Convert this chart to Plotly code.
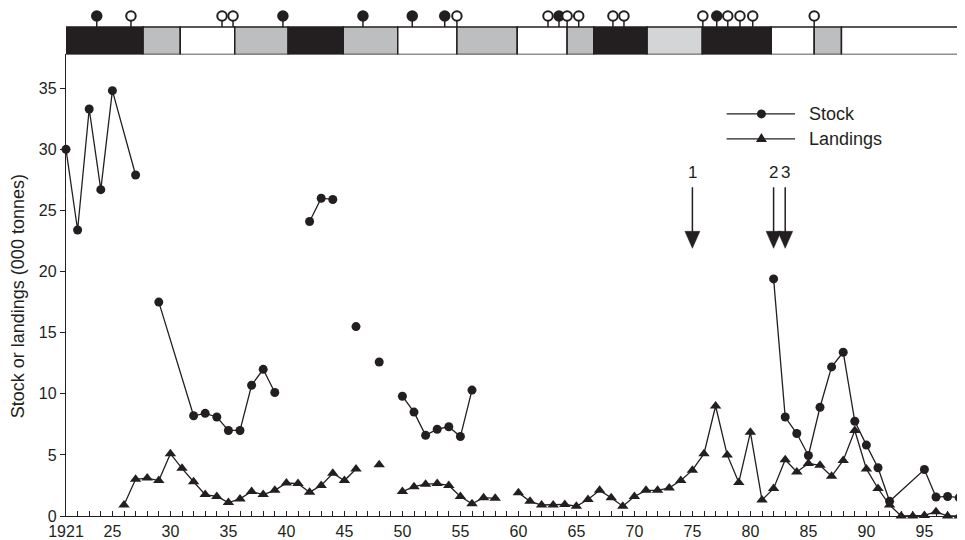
import plotly.graph_objects as go

# ---------------- data ----------------
stock_years = [1921, 1922, 1923, 1924, 1925, 1927, 1928,
               1929, 1932, 1933, 1934, 1935, 1936, 1937, 1938, 1939, 1940,
               1942, 1943, 1944, 1945, 1946, 1947, 1948, 1949,
               1950, 1951, 1952, 1953, 1954, 1955, 1956, 1957,
               1982, 1983, 1984, 1985, 1986, 1987, 1988, 1989, 1990, 1991, 1992,
               1995, 1996, 1997, 1998]
stock_values = [30.0, 23.4, 33.3, 26.7, 34.8, 27.9, None,
                17.5, 8.2, 8.4, 8.1, 7.0, 7.0, 10.7, 12.0, 10.1, None,
                24.1, 26.0, 25.9, None, 15.5, None, 12.6, None,
                9.8, 8.5, 6.6, 7.1, 7.3, 6.5, 10.3, None,
                19.4, 8.1, 6.75, 4.95, 8.9, 12.2, 13.4, 7.75, 5.8, 3.95, 1.2,
                3.8, 1.55, 1.6, 1.5]

landings_years = list(range(1926, 2000))
landings_values = [0.9, 3.0, 3.1, 2.9, 5.1, 3.9, 2.8, 1.75, 1.6, 1.1,      # 1926-35
                   1.4, 2.0, 1.75, 2.1, 2.7, 2.65, 1.95, 2.5, 3.5, 2.9,    # 1936-45
                   3.85, None, 4.2, None, 2.0, 2.4, 2.6, 2.65, 2.5, 1.6,   # 1946-55
                   1.0, 1.5, 1.45, None, 1.9, 1.2, 0.9, 0.9, 0.95, 0.8,    # 1956-65
                   1.35, 2.1, 1.5, 0.8, 1.6, 2.1, 2.1, 2.3, 2.9, 3.75,     # 1966-75
                   5.1, 9.0, 5.0, 2.75, 6.85, 1.3, 2.25, 4.6, 3.6, 4.3,    # 1976-85
                   4.15, 3.25, 4.55, 7.0, 3.85, 2.25, 0.9, 0.0, 0.0, 0.05, # 1986-95
                   0.35, 0.0, 0.0, 4.8]                                     # 1996-99

# period bar along the top
period_edges = [1921, 1927.65, 1930.85, 1935.55, 1940.15, 1944.9, 1949.6, 1954.7,
                1959.9, 1964.2, 1966.5, 1971.1, 1975.85, 1981.8, 1985.5, 1987.85, 1999.5]
period_kinds = ["black", "grey", "white", "grey", "black", "grey", "white", "grey",
                "white", "grey", "black", "light", "black", "white", "grey", "white"]

# flag markers above the bar
flag_years = [1923.65, 1926.6, 1934.45, 1935.4, 1939.7, 1946.6, 1950.85, 1953.65,
              1954.7, 1962.55, 1963.5, 1964.2, 1965.2, 1968.15, 1969.1, 1975.9,
              1977.1, 1978.05, 1979.1, 1980.2, 1985.5]
flag_filled = [1, 0, 0, 0, 1, 1, 1, 1, 0, 0, 1, 0, 0, 0, 0, 0, 1, 0, 0, 0, 0]

arrow_years = [1975, 1982, 1983]
arrow_labels = ["1", "2", "3"]

x_tickvals = [1921, 1925, 1930, 1935, 1940, 1945, 1950, 1955, 1960, 1965, 1970,
              1975, 1980, 1985, 1990, 1995]
x_ticktext = ["1921", "25", "30", "35", "40", "45", "50", "55", "60", "65", "70",
              "75", "80", "85", "90", "95"]
y_tickvals = [0, 5, 10, 15, 20, 25, 30, 35]

# ---------------- style / geometry ----------------
INK = "#231f20"
FILL = {"black": "#231f20", "grey": "#bcbec0", "white": "#ffffff", "light": "#d4d5d7"}
FONT = "Liberation Sans, Arial, Helvetica, sans-serif"

OFF = 8                      # page body margin
SCREEN_W, SCREEN_H = 965, 540
W, H = SCREEN_W - OFF, SCREEN_H - OFF
# target screen positions
X_LEFT = 66                  # y axis line
Y_ZERO = 516.5               # y = 0
Y_BAR_BOTTOM = 54.5          # bottom of the period bar
Y_BAR_TOP = 27.0
Y_FLAG = 16.0
PX_PER_UNIT = 12.234

ML, MR, MT = X_LEFT - OFF, 0, 0
MB = H - (Y_ZERO - OFF)
plot_h = H - MT - MB
ydom_top = (Y_ZERO - Y_BAR_BOTTOM) / plot_h
y_top_val = (Y_ZERO - Y_BAR_BOTTOM) / PX_PER_UNIT
band_h = Y_BAR_BOTTOM - OFF - MT     # y2 band height, y2 units = px
bar_top = Y_BAR_BOTTOM - Y_BAR_TOP
flag_y = Y_BAR_BOTTOM - Y_FLAG

fig = go.Figure()

fig.add_trace(go.Scatter(
    x=stock_years, y=stock_values, mode="lines+markers", name="Stock",
    line=dict(color=INK, width=1.3),
    marker=dict(symbol="circle", size=9, color=INK),
    cliponaxis=False, showlegend=False))

fig.add_trace(go.Scatter(
    x=landings_years, y=landings_values, mode="lines+markers", name="Landings",
    line=dict(color=INK, width=1.3),
    marker=dict(symbol="triangle-up", size=10, color=INK),
    cliponaxis=False, showlegend=False))

# flags (lollipops) on the upper band axis
fig.add_trace(go.Scatter(
    x=flag_years, y=[flag_y] * len(flag_years), xaxis="x", yaxis="y2",
    mode="markers",
    marker=dict(symbol="circle", size=9.5,
                color=[INK if f else "white" for f in flag_filled],
                line=dict(color=INK, width=2)),
    error_y=dict(type="data", symmetric=False, array=[0] * len(flag_years),
                 arrayminus=[flag_y - bar_top] * len(flag_years),
                 color=INK, thickness=1.5, width=0),
    cliponaxis=False, showlegend=False, hoverinfo="skip"))

shapes = []
for i, kind in enumerate(period_kinds):
    shapes.append(dict(type="rect", xref="x", yref="y2",
                       x0=period_edges[i], x1=period_edges[i + 1], y0=0, y1=bar_top,
                       fillcolor=FILL[kind], line=dict(color=INK, width=1.5),
                       layer="below"))

annotations = []
# arrows
for yr, lab in zip(arrow_years, arrow_labels):
    shapes.append(dict(type="line", xref="x", yref="y", x0=yr, x1=yr, y0=26.9, y1=23.0,
                       line=dict(color=INK, width=1.5)))
    shapes.append(dict(type="path", xref="x", yref="y", xsizemode="pixel", ysizemode="pixel",
                       xanchor=yr, yanchor=21.9, path="M-7.5,17 L7.5,17 L0,0 Z",
                       fillcolor=INK, line=dict(color=INK, width=0.5)))
    annotations.append(dict(x=yr, y=28.1, xref="x", yref="y", text=lab, showarrow=False,
                            font=dict(size=17, color=INK, family=FONT)))

# legend (drawn)
leg_x0, leg_x1, leg_xm, leg_tx = 1977.95, 1983.85, 1980.95, 1984.9
leg_y_stock, leg_y_land = 32.9, 30.85
for yy in (leg_y_stock, leg_y_land):
    shapes.append(dict(type="line", xref="x", yref="y", x0=leg_x0, x1=leg_x1, y0=yy, y1=yy,
                       line=dict(color=INK, width=1.3)))
shapes.append(dict(type="circle", xref="x", yref="y", xsizemode="pixel", ysizemode="pixel",
                   xanchor=leg_xm, yanchor=leg_y_stock, x0=-4.5, x1=4.5, y0=-4.5, y1=4.5,
                   fillcolor=INK, line=dict(color=INK, width=0)))
shapes.append(dict(type="path", xref="x", yref="y", xsizemode="pixel", ysizemode="pixel",
                   xanchor=leg_xm, yanchor=leg_y_land, path="M-5.5,-3 L5.5,-3 L0,6 Z",
                   fillcolor=INK, line=dict(color=INK, width=0)))
annotations.append(dict(x=leg_tx, y=leg_y_stock, xref="x", yref="y", text="Stock",
                        showarrow=False, xanchor="left",
                        font=dict(size=18, color=INK, family=FONT)))
annotations.append(dict(x=leg_tx, y=leg_y_land, xref="x", yref="y", text="Landings",
                        showarrow=False, xanchor="left",
                        font=dict(size=18, color=INK, family=FONT)))

# y-axis title
annotations.append(dict(x=(18 - X_LEFT) / (W - ML - MR), y=(Y_ZERO - 296.5) / plot_h,
                        xref="paper", yref="paper", text="Stock or landings (000 tonnes)",
                        textangle=-90, showarrow=False, xanchor="center", yanchor="middle",
                        font=dict(size=18, color=INK, family=FONT)))

fig.update_layout(
    width=W, height=H,
    margin=dict(l=ML, r=MR, t=MT, b=MB, pad=0),
    paper_bgcolor="white", plot_bgcolor="rgba(0,0,0,0)",
    font=dict(family=FONT, size=16, color=INK),
    xaxis=dict(range=[1921, 1998.5], tickvals=x_tickvals, ticktext=x_ticktext,
               ticks="inside", ticklen=5, tickwidth=1.2, tickcolor=INK,
               minor=dict(tick0=1921, dtick=1, ticks="inside", ticklen=5,
                          tickwidth=1.2, tickcolor=INK),
               showline=True, linecolor=INK, linewidth=1.3, showgrid=False,
               zeroline=False, anchor="y", automargin=False, ticklabelstandoff=1,
               tickfont=dict(size=16, color=INK, family=FONT)),
    yaxis=dict(domain=[0, ydom_top], range=[0, y_top_val],
               tickvals=y_tickvals, ticks="outside", ticklen=5, tickwidth=1.2,
               tickcolor=INK, showline=True, linecolor=INK, linewidth=1.3,
               showgrid=False, zeroline=False, automargin=False,
               tickfont=dict(size=16, color=INK, family=FONT)),
    yaxis2=dict(domain=[ydom_top, 1], range=[0, band_h], visible=False,
                anchor="x", fixedrange=True),
    shapes=shapes, annotations=annotations,
)

fig.write_html("out.html")
